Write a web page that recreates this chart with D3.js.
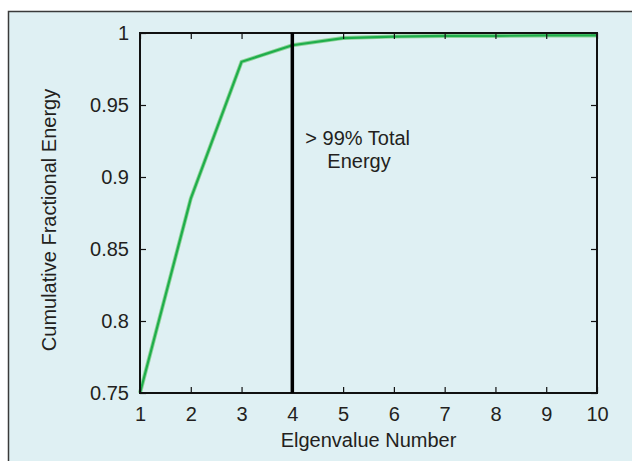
<!DOCTYPE html>
<html>
<head>
<meta charset="utf-8">
<script src="https://cdn.jsdelivr.net/npm/d3@7"></script>
<style>
    html, body { margin: 0; padding: 0; background: #fff; }
    #chart { width: 632px; height: 461px; }
    text { font-family: "Liberation Sans", Arial, sans-serif; fill: #231f20; }
</style>
</head>
<body>
<div id="chart"></div>
<script>
const eigenNumbers = [1, 2, 3, 4, 5, 6, 7, 8, 9, 10];
const cumulativeEnergy = [0.75, 0.885, 0.98, 0.9915, 0.9965, 0.9975, 0.998, 0.998, 0.9983, 0.9983];
const xTicks = [1, 2, 3, 4, 5, 6, 7, 8, 9, 10];
const yTicks = [0.75, 0.8, 0.85, 0.9, 0.95, 1];
const cutoff = 4;
const noteLines = ['> 99% Total', 'Energy'];

const config = {
    width: 632,
    height: 461,
    margin: {top: 33, right: 35, bottom: 68, left: 140},
    bg: '#dff0f3',
    lineColor: '#1fae4b',
    tickSize: 6,
    fontSize: '20px',
};

const svg = d3.select('#chart')
    .append('svg')
        .attr('width', config.width)
        .attr('height', config.height);

// the panel frame runs off the right and bottom edges of the picture
svg.append('rect')
    .attr('x', 8.5)
    .attr('y', 11.5)
    .attr('width', config.width)
    .attr('height', config.height)
    .attr('fill', config.bg)
    .attr('stroke', '#3a3a3a')
    .attr('stroke-width', 1.5);

const w = config.width - config.margin.left - config.margin.right;
const h = config.height - config.margin.top - config.margin.bottom;

const x = d3.scaleLinear().domain([1, 10]).range([0, w]);
const y = d3.scaleLinear().domain([0.75, 1]).range([h, 0]);

const g = svg.append('g')
    .attr('transform', `translate(${config.margin.left}, ${config.margin.top})`);

// data line
const line = d3.line()
    .x((d, i) => x(eigenNumbers[i]))
    .y(d => y(d));

g.append('path')
    .datum(cumulativeEnergy)
    .attr('fill', 'none')
    .attr('stroke', '#8fd49a')
    .attr('stroke-width', 4)
    .attr('d', line);

g.append('path')
    .datum(cumulativeEnergy)
    .attr('fill', 'none')
    .attr('stroke', config.lineColor)
    .attr('stroke-width', 2.2)
    .attr('d', line);

// axes, matlab style ticks pointing inwards
const styleAxis = sel => {
    sel.select('.domain').remove();
    sel.selectAll('line').attr('stroke', '#111').attr('stroke-width', 1.2);
    sel.selectAll('text').style('font-size', config.fontSize).attr('fill', '#231f20');
};

g.append('g')
    .attr('transform', `translate(0, ${h})`)
    .call(d3.axisBottom(x).tickValues(xTicks).tickSize(-config.tickSize).tickPadding(14).tickFormat(d3.format('d')))
    .call(styleAxis);

g.append('g')
    .call(d3.axisTop(x).tickValues(xTicks).tickSize(-config.tickSize).tickFormat(''))
    .call(styleAxis);

g.append('g')
    .call(d3.axisLeft(y).tickValues(yTicks).tickSize(-config.tickSize).tickPadding(11).tickFormat(d => d === 1 ? '1' : d3.format('.2~f')(d)))
    .call(styleAxis);

g.append('g')
    .attr('transform', `translate(${w}, 0)`)
    .call(d3.axisRight(y).tickValues(yTicks).tickSize(-config.tickSize).tickFormat(''))
    .call(styleAxis);

// box
g.append('rect')
    .attr('width', w)
    .attr('height', h)
    .attr('fill', 'none')
    .attr('stroke', '#111')
    .attr('stroke-width', 2);

// cutoff marker
g.append('line')
    .attr('x1', x(cutoff)).attr('x2', x(cutoff))
    .attr('y1', 0).attr('y2', h)
    .attr('stroke', '#000')
    .attr('stroke-width', 3.5);

g.append('text')
    .attr('x', x(cutoff) + 13)
    .attr('y', 112)
    .style('font-size', config.fontSize)
    .text(noteLines[0]);

g.append('text')
    .attr('x', x(cutoff) + 35)
    .attr('y', 135)
    .style('font-size', config.fontSize)
    .text(noteLines[1]);

// axis titles
svg.append('text')
    .attr('x', config.margin.left + w / 2)
    .attr('y', 447)
    .attr('text-anchor', 'middle')
    .style('font-size', config.fontSize)
    .text('Elgenvalue Number');

svg.append('text')
    .attr('transform', `translate(56, 220) rotate(-90)`)
    .attr('text-anchor', 'middle')
    .style('font-size', config.fontSize)
    .text('Cumulative Fractional Energy');
</script>
</body>
</html>
